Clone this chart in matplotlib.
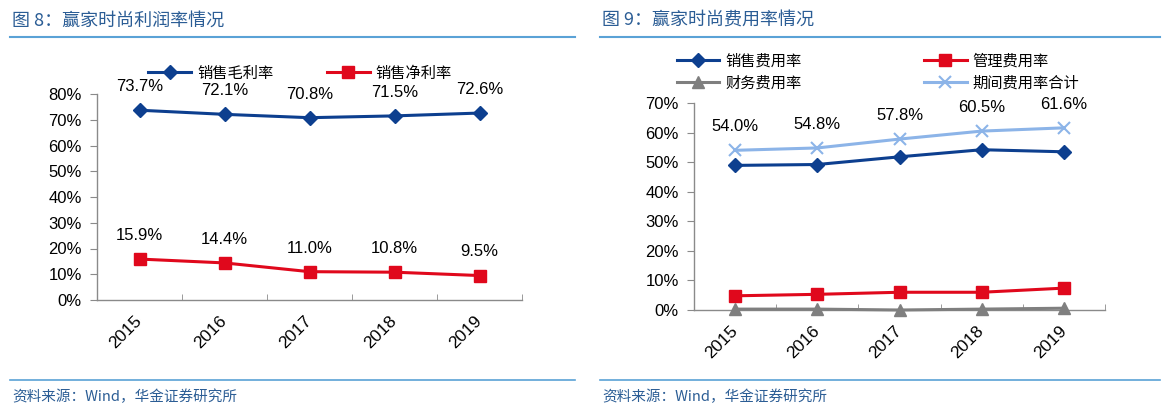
import numpy as np
import matplotlib.pyplot as plt
from matplotlib.lines import Line2D
from matplotlib.transforms import ScaledTranslation

plt.rcParams['font.family'] = ['Liberation Sans', 'Noto Sans CJK SC', 'DejaVu Sans']

years = ['2015', '2016', '2017', '2018', '2019']

# figure 8: profit margins (%)
gross_margin = [73.7, 72.1, 70.8, 71.5, 72.6]
net_margin = [15.9, 14.4, 11.0, 10.8, 9.5]

# figure 9: expense ratios (%)
selling_ratio = [48.9, 49.2, 51.8, 54.2, 53.5]
admin_ratio = [4.8, 5.3, 6.0, 6.0, 7.4]
finance_ratio = [0.3, 0.3, 0.0, 0.3, 0.6]
total_ratio = [54.0, 54.8, 57.8, 60.5, 61.6]

left_title = '图 8：赢家时尚利润率情况'
right_title = '图 9：赢家时尚费用率情况'
source_text = '资料来源：Wind，华金证券研究所'

DARK_BLUE = '#0d3f8f'
RED = '#e0081c'
GRAY = '#7f7f7f'
LIGHT_BLUE = '#8cb4e8'
AXIS_GRAY = '#8a8a8a'
TITLE_BLUE = '#2b5d95'
RULE_BLUE = '#5aa2d6'

W, H = 1168, 418
fig = plt.figure(figsize=(W / 100, H / 100), dpi=100)


def px_axes(x0, x1, y_top, y_bot):
    return fig.add_axes([x0 / W, 1 - y_bot / H, (x1 - x0) / W, (y_bot - y_top) / H])


def style_axes(ax, ymax):
    x = np.arange(len(years))
    ax.set_xlim(-0.5, len(years) - 0.5)
    ax.set_ylim(0, ymax)
    ax.set_yticks(np.arange(0, ymax + 1, 10))
    ax.set_yticklabels([f'{v}%' for v in range(0, ymax + 1, 10)], fontsize=12)
    ax.set_xticks(x)
    ax.set_xticklabels(years, rotation=45, fontsize=12.5, ha='right', va='center',
                       rotation_mode='anchor')
    shift = ScaledTranslation(6 / 100, 0, fig.dpi_scale_trans)
    for lab in ax.get_xticklabels():
        lab.set_transform(lab.get_transform() + shift)
    ax.set_xticks(np.arange(-0.5, len(years)), minor=True)
    ax.tick_params(axis='x', which='major', length=0, pad=13)
    ax.tick_params(axis='x', which='minor', length=4, color=AXIS_GRAY, direction='in')
    ax.tick_params(axis='y', length=5, color=AXIS_GRAY, direction='out', pad=6)
    for side in ['top', 'right']:
        ax.spines[side].set_visible(False)
    for side in ['left', 'bottom']:
        ax.spines[side].set_color(AXIS_GRAY)
        ax.spines[side].set_linewidth(1)


def label_points(ax, values):
    for i, v in enumerate(values):
        ax.annotate(f'{v:.1f}%', (i, v), xytext=(0, 17), textcoords='offset points',
                    ha='center', va='center', fontsize=12)


def header_footer(x0, x1, title):
    fig.add_artist(Line2D([x0 / W, x1 / W], [1 - 37 / H] * 2, color=RULE_BLUE, lw=1.5))
    fig.add_artist(Line2D([x0 / W, x1 / W], [1 - 380 / H] * 2, color=RULE_BLUE, lw=1.2))
    fig.text((x0 + 2) / W, 1 - 21 / H, title, fontsize=13, color=TITLE_BLUE,
             family=['Noto Sans CJK SC'], va='center')
    fig.text((x0 + 2) / W, 1 - 397 / H, source_text, fontsize=10.5, color=TITLE_BLUE,
             family=['Noto Sans CJK SC'], style='italic', va='center')


x = np.arange(len(years))
line_kw = dict(lw=2.2, zorder=3)

# ---- left chart
ax1 = px_axes(97, 522, 94, 300)
style_axes(ax1, 80)
ax1.plot(x, gross_margin, color=DARK_BLUE, marker='D', ms=7, label='销售毛利率', **line_kw)
ax1.plot(x, net_margin, color=RED, marker='s', ms=9, label='销售净利率', **line_kw)
label_points(ax1, gross_margin)
label_points(ax1, net_margin)
ax1.legend(loc='center', bbox_to_anchor=(300 / W, 1 - 73 / H), bbox_transform=fig.transFigure,
           ncol=2, frameon=False, handlelength=2.8, columnspacing=3.5,
           handletextpad=0.4, prop={'family': ['Noto Sans CJK SC'], 'size': 11})
header_footer(10, 575, left_title)

# ---- right chart
ax2 = px_axes(694, 1105, 103, 310)
style_axes(ax2, 70)
ax2.plot(x, selling_ratio, color=DARK_BLUE, marker='D', ms=7, label='销售费用率', **line_kw)
ax2.plot(x, admin_ratio, color=RED, marker='s', ms=9, label='管理费用率', **line_kw)
ax2.plot(x, finance_ratio, color=GRAY, marker='^', ms=8, label='财务费用率',
         clip_on=False, **line_kw)
ax2.plot(x, total_ratio, color=LIGHT_BLUE, marker='x', ms=8, mew=1.5,
         label='期间费用率合计', **line_kw)
label_points(ax2, total_ratio)
h, l = ax2.get_legend_handles_labels()
order = [0, 2, 1, 3]
ax2.legend([h[i] for i in order], [l[i] for i in order], loc='center',
           bbox_to_anchor=(878 / W, 1 - 72 / H), bbox_transform=fig.transFigure,
           ncol=2, frameon=False, handlelength=2.8, columnspacing=8.0,
           handletextpad=0.4, labelspacing=0.35,
           prop={'family': ['Noto Sans CJK SC'], 'size': 11})
header_footer(600, 1160, right_title)

fig.savefig('out.png', dpi=100)
